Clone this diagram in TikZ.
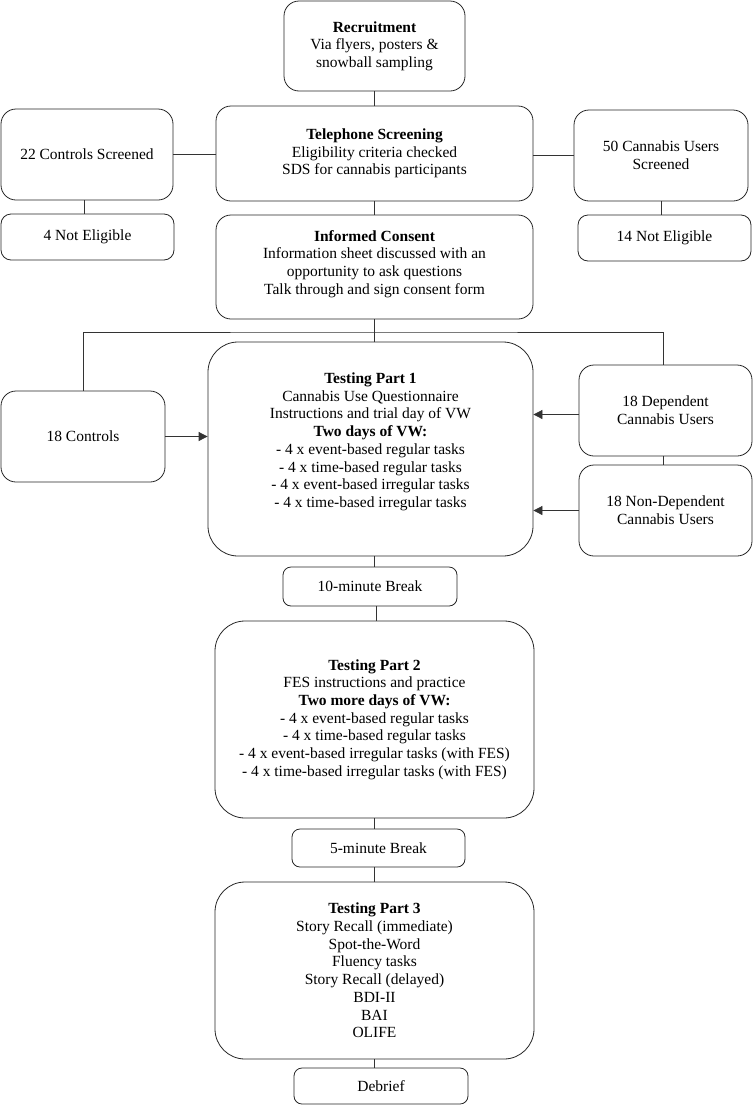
\documentclass[tikz,border=0pt]{standalone}
\usepackage{fontspec}
\setmainfont{Liberation Serif}
\usetikzlibrary{arrows.meta}
\begin{document}
\begin{tikzpicture}[x=1pt,y=-1pt,
  box/.style={draw=black!85, line width=0.8pt, rounded corners=#1, align=center, inner sep=0pt,
    font=\fontsize{15.5}{17.7}\selectfont},
  box/.default=10pt,
  conn/.style={draw=black!80, line width=0.8pt},
  arr/.style={conn, -{Triangle[length=9pt,width=9pt]}}]
\useasboundingbox (0,0) rectangle (753,1106);
\node[box=15pt, minimum width=181pt, minimum height=90pt] (rec) at (374.5,46)
  {\textbf{Recruitment}\\Via flyers, posters \&\\snowball sampling};
\node[box=15pt, minimum width=317pt, minimum height=95pt] (tel) at (374.5,153.5)
  {\textbf{Telephone Screening}\\Eligibility criteria checked\\SDS for cannabis participants};
\node[box=15pt, minimum width=172pt, minimum height=91pt] (cs) at (87,154.5)
  {22 Controls Screened};
\node[box=15pt, minimum width=174pt, minimum height=91pt] (us) at (661,155.5)
  {50 Cannabis Users\\Screened};
\node[box, minimum width=173pt, minimum height=46pt] (ne1) at (87.5,237) {4 Not Eligible};
\node[box, minimum width=173pt, minimum height=46pt] (ne2) at (664.5,238) {14 Not Eligible};
\node[box=15pt, minimum width=317pt, minimum height=104pt] (con) at (374.5,267)
  {\textbf{Informed Consent}\\Information sheet discussed with an\\opportunity to ask questions\\Talk through and sign consent form\\[-8pt]\mbox{}};
\node[box=30pt, minimum width=325pt, minimum height=214pt] (t1) at (370.5,449)
  {\textbf{Testing Part 1}\\Cannabis Use Questionnaire\\Instructions and trial day of VW\\\textbf{Two days of VW:}\\- 4 x event-based regular tasks\\- 4 x time-based regular tasks\\- 4 x event-based irregular tasks\\- 4 x time-based irregular tasks\\\mbox{}};
\node[box=15pt, minimum width=164pt, minimum height=91pt] (c18) at (83,436.5) {18 Controls};
\node[box=15pt, minimum width=173pt, minimum height=91pt] (dep) at (665.5,410.5) {18 Dependent\\Cannabis Users};
\node[box=15pt, minimum width=173pt, minimum height=91pt] (ndep) at (665.5,510.5) {18 Non-Dependent\\Cannabis Users};
\node[box=8pt, minimum width=174pt, minimum height=39pt] (b10) at (370,586.5) {10-minute Break};
\node[box=30pt, minimum width=319pt, minimum height=197pt] (t2) at (374.5,719.5)
  {\textbf{Testing Part 2}\\FES instructions and practice\\\textbf{Two more days of VW:}\\- 4 x event-based regular tasks\\- 4 x time-based regular tasks\\- 4 x event-based irregular tasks (with FES)\\- 4 x time-based irregular tasks (with FES)};
\node[box=8pt, minimum width=173pt, minimum height=38pt] (b5) at (378.5,848) {5-minute Break};
\node[box=30pt, minimum width=319pt, minimum height=177pt] (t3) at (374.5,970.5)
  {\textbf{Testing Part 3}\\Story Recall (immediate)\\Spot-the-Word\\Fluency tasks\\Story Recall (delayed)\\BDI-II\\BAI\\OLIFE};
\node[box=8pt, minimum width=174pt, minimum height=36pt] (deb) at (381,1086) {Debrief};
% connectors
\coordinate (split) at (374.5,332);
\draw[conn] (rec.south) -- (rec.south |- tel.north);
\draw[conn] (cs.east) -- (cs.east -| tel.west);
\draw[conn] (us.west) -- (us.west -| tel.east);
\draw[conn] ([xshift=-3pt]cs.south) -- ([xshift=-3pt]cs.south |- ne1.north);
\draw[conn] (us.south) -- (us.south |- ne2.north);
\draw[conn] (tel.south) -- (tel.south |- con.north);
\draw[conn] (con.south) -- (con.south |- t1.north);
\draw[conn] (c18.north) |- (split) -| ([xshift=-2.5pt]dep.north);
\draw[conn] ([xshift=-2.5pt]dep.south) -- ([xshift=-2.5pt]ndep.north);
\draw[arr] (c18.east) -- (c18.east -| t1.west);
\draw[arr] ([yshift=-4pt]dep.west) -- ([yshift=-4pt]dep.west -| t1.east);
\draw[arr] (ndep.west) -- (ndep.west -| t1.east);
\draw[conn] ([xshift=4pt]t1.south) -- ([xshift=4pt]t1.south |- b10.north);
\draw[conn] ([xshift=6pt]b10.south) -- ([xshift=6pt]b10.south |- t2.north);
\draw[conn] (t2.south) -- (t2.south |- b5.north);
\draw[conn] (t3.north |- b5.south) -- (t3.north);
\draw[conn] (t3.south) -- (t3.south |- deb.north);
\end{tikzpicture}
\end{document}
